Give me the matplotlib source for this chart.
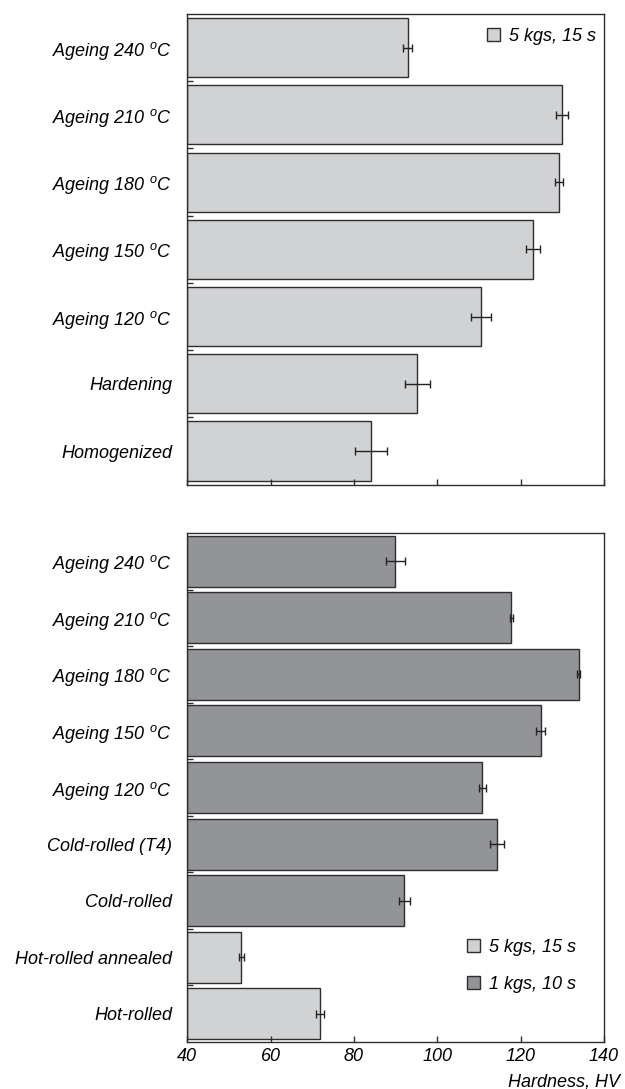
import matplotlib
matplotlib.use('Agg')
import matplotlib.pyplot as plt
from matplotlib.patches import Patch

plt.rcParams['font.family'] = ['Liberation Sans', 'DejaVu Sans']
plt.rcParams['font.style'] = 'italic'
plt.rcParams['font.size'] = 13
plt.rcParams['mathtext.fontset'] = 'custom'
plt.rcParams['mathtext.rm'] = 'Liberation Sans:italic'
plt.rcParams['mathtext.it'] = 'Liberation Sans:italic'

DEG = r'$^{o}$'

# top panel (5 kgs, 15 s), listed top to bottom
top_labels = [f'Ageing 240 {DEG}C', f'Ageing 210 {DEG}C', f'Ageing 180 {DEG}C',
              f'Ageing 150 {DEG}C', f'Ageing 120 {DEG}C', 'Hardening', 'Homogenized']
top_values = [92.9, 130.0, 129.2, 123.0, 110.5, 95.2, 84.1]
top_errors = [1.1, 1.4, 1.0, 1.7, 2.4, 3.0, 3.9]

# bottom panel, listed top to bottom
bot_labels = [f'Ageing 240 {DEG}C', f'Ageing 210 {DEG}C', f'Ageing 180 {DEG}C',
              f'Ageing 150 {DEG}C', f'Ageing 120 {DEG}C', 'Cold-rolled (T4)',
              'Cold-rolled', 'Hot-rolled annealed', 'Hot-rolled']
bot_values = [89.9, 117.8, 133.9, 124.8, 110.8, 114.3, 92.1, 52.9, 71.8]
bot_errors = [2.3, 0.3, 0.3, 1.0, 0.9, 1.7, 1.3, 0.6, 1.0]
bot_load = ['1 kgs', '1 kgs', '1 kgs', '1 kgs', '1 kgs', '1 kgs', '1 kgs', '5 kgs', '5 kgs']

xticks = [40, 60, 80, 100, 120, 140]

LIGHT = '#d1d2d4'
DARK = '#939498'
EDGE = '#2e2e2e'

W, H = 625, 1089
fig = plt.figure(figsize=(W / 100, H / 100), dpi=100)


def axes_px(left, top, right, bottom):
    return fig.add_axes([left / W, 1 - bottom / H, (right - left) / W, (bottom - top) / H])


ax1 = axes_px(187.3, 14, 604, 484.7)
ax2 = axes_px(187.3, 533, 604, 1042)


def draw(ax, labels, values, errors, colors, height):
    n = len(labels)
    pos = list(range(n))[::-1]
    ax.barh(pos, [v - 40 for v in values], left=40, height=height, color=colors,
            edgecolor=EDGE, linewidth=1)
    ax.errorbar(values, pos, xerr=errors, fmt='none', ecolor='#222222',
                elinewidth=1, capsize=3, capthick=1)
    ax.set_ylim(-0.5, n - 0.5)
    ax.set_xlim(40, 140)
    ax.set_yticks(pos)
    ax.set_yticklabels(labels)
    ax.set_yticks([p + 0.5 for p in range(n - 1)], minor=True)
    ax.tick_params(axis='y', which='major', length=0, pad=11)
    ax.tick_params(axis='y', which='minor', direction='in', length=4, width=1, color=EDGE)
    ax.set_xticks(xticks)
    ax.tick_params(axis='x', direction='in', length=4, width=1, color=EDGE, pad=4)
    for s in ax.spines.values():
        s.set_linewidth(1)
        s.set_color(EDGE)


draw(ax1, top_labels, top_values, top_errors, [LIGHT] * len(top_values), 0.88)
ax1.set_xticklabels([])
ax1.legend(handles=[Patch(facecolor=LIGHT, edgecolor=EDGE, linewidth=1, label='5 kgs, 15 s')],
           loc='upper left', bbox_to_anchor=(0.719, 0.97), borderaxespad=0, borderpad=0,
           frameon=False, handlelength=0.75, handleheight=0.75, handletextpad=0.5)

bot_colors = [LIGHT if l == '5 kgs' else DARK for l in bot_load]
draw(ax2, bot_labels, bot_values, bot_errors, bot_colors, 0.9)
ax2.set_xticklabels([str(t) for t in xticks])
ax2.legend(handles=[Patch(facecolor=LIGHT, edgecolor=EDGE, linewidth=1, label='5 kgs, 15 s'),
                    Patch(facecolor=DARK, edgecolor=EDGE, linewidth=1, label='1 kgs, 10 s')],
           loc='upper left', bbox_to_anchor=(0.671, 0.202), borderaxespad=0, borderpad=0,
           frameon=False, handlelength=0.75, handleheight=0.75, handletextpad=0.5,
           labelspacing=1.1)
ax2.set_xlabel('Hardness, HV', ha='right', va='center')
ax2.xaxis.set_label_coords((620 - 187.3) / 416.7, -0.0786)

fig.savefig('out.png', dpi=100)
